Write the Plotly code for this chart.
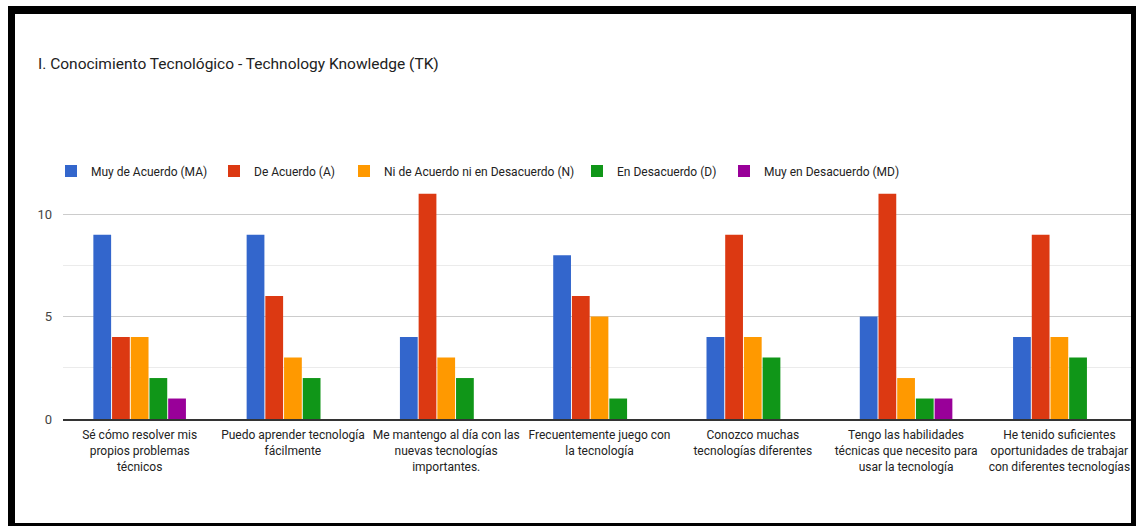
import plotly.graph_objects as go

categories = [
    "Sé cómo resolver mis<br>propios problemas<br>técnicos",
    "Puedo aprender tecnología<br>fácilmente",
    "Me mantengo al día con las<br>nuevas tecnologías<br>importantes.",
    "Frecuentemente juego con<br>la tecnología",
    "Conozco muchas<br>tecnologías diferentes",
    "Tengo las habilidades<br>técnicas que necesito para<br>usar la tecnología",
    "He tenido suficientes<br>oportunidades de trabajar<br>con diferentes tecnologías",
]
series_names = [
    "Muy de Acuerdo (MA)",
    "De Acuerdo (A)",
    "Ni de Acuerdo ni en Desacuerdo (N)",
    "En Desacuerdo (D)",
    "Muy en Desacuerdo (MD)",
]
ma = [9, 9, 4, 8, 4, 5, 4]
a = [4, 6, 11, 6, 9, 11, 9]
n = [4, 3, 3, 5, 4, 2, 4]
d = [2, 2, 2, 1, 3, 1, 3]
md = [1, 0, 0, 0, 0, 1, 0]
values = [ma, a, n, d, md]
colors = ["#3366cc", "#dc3912", "#ff9900", "#109618", "#990099"]
y_ticks = [0, 5, 10]

FONT = "Roboto, Arial"

W, H = 1136, 526
L, R, T, B = 63, 0, 163, 107
pw, ph = W - L - R, H - T - B

def px(x):
    return (x - L) / pw

def py(y):
    return (H - B - y) / ph

# left pixel where each legend label starts
legend_text_x = [91, 254, 384, 617, 764]
legend_keys = ["legend", "legend2", "legend3", "legend4", "legend5"]

fig = go.Figure()
for name, vals, col, lk in zip(series_names, values, colors, legend_keys):
    fig.add_trace(go.Bar(name=name, x=categories, y=vals, marker_color=col,
                         marker_line_width=0, legend=lk))

frame = [
    (8, 6, 15, 526),
    (8, 6, 1136, 14),
    (1131, 6, 1136, 526),
    (8, 523, 1136, 526),
]
shapes = [dict(type="rect", xref="paper", yref="paper", x0=px(x0), x1=px(x1),
               y0=py(y1), y1=py(y0), fillcolor="black", line_width=0, layer="above")
          for x0, y0, x1, y1 in frame]

legends = {}
for lk, tx in zip(legend_keys, legend_text_x):
    legends[lk] = dict(orientation="h", x=px(tx - 40), xanchor="left",
                       y=py(171), yanchor="middle",
                       font=dict(family=FONT, size=12, color="#222222"),
                       bgcolor="rgba(255,255,255,0)", itemwidth=30)

fig.update_layout(
    width=W, height=H,
    margin=dict(l=L, r=R, t=T, b=B, pad=0, autoexpand=False),
    paper_bgcolor="white", plot_bgcolor="white",
    font=dict(family=FONT, size=12, color="#222222"),
    title=dict(text="I. Conocimiento Tecnológico - Technology Knowledge (TK)",
               x=38 / W, xanchor="left", y=1 - 64 / H, yanchor="middle",
               font=dict(family=FONT, size=15.5, color="#222222")),
    barmode="group", bargap=0.39, bargroupgap=0.05,
    showlegend=True,
    xaxis=dict(showgrid=False, showline=True, linecolor="#333333", linewidth=2,
               ticks="", tickfont=dict(family=FONT, size=12, color="#222222"),
               tickangle=0, fixedrange=True, ticklabelstandoff=4),
    yaxis=dict(range=[0, 12.5], tickvals=y_ticks, showgrid=True,
               gridcolor="#cccccc", gridwidth=1, zeroline=False,
               showline=False, ticks="", ticklen=0,
               tickfont=dict(family=FONT, size=13, color="#444444"),
               minor=dict(dtick=2.5, showgrid=True, gridcolor="#ebebeb", gridwidth=1),
               ticklabelstandoff=10, fixedrange=True),
    shapes=shapes,
    **legends,
)

fig.write_html("out.html", config={"displayModeBar": False},
               post_script="document.body.style.margin='0';")
